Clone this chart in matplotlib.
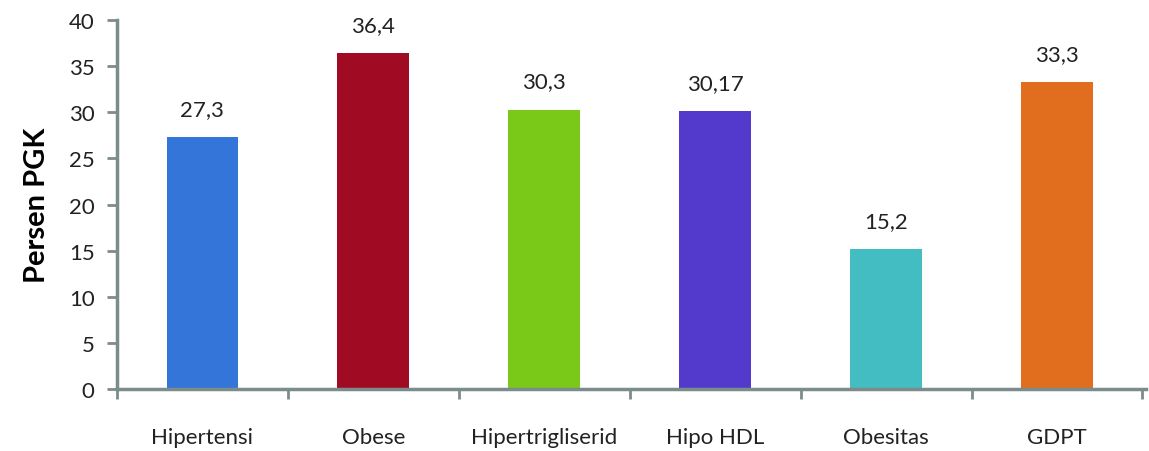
import numpy as np
import matplotlib
matplotlib.use("Agg")
import matplotlib.pyplot as plt

categories = ["Hipertensi", "Obese", "Hipertrigliserid", "Hipo HDL", "Obesitas", "GDPT"]
values = [27.3, 36.4, 30.3, 30.17, 15.2, 33.3]
value_labels = ["27,3", "36,4", "30,3", "30,17", "15,2", "33,3"]
colors = ["#3375D9", "#A00A22", "#7AC818", "#533ACC", "#43BDC1", "#E06E1E"]

plt.rcParams["font.family"] = ["Lato", "DejaVu Sans"]
axis_col = "#7C8C8A"
text_col = "#222222"

fig = plt.figure(figsize=(11.49, 4.52), dpi=100)
ax = fig.add_axes([0.1018, 0.137, 0.8955, 0.8165])

x = np.arange(len(categories))
ax.bar(x, values, width=0.42, color=colors, zorder=2)
for xi, v, lab in zip(x, values, value_labels):
    ax.annotate(lab, (xi, v), xytext=(0, 13), textcoords="offset points",
                ha="center", va="bottom", fontsize=16, color=text_col)

ax.set_xlim(-0.5, len(categories) - 0.48)
ax.set_ylim(0, 40)
ax.set_yticks(np.arange(0, 41, 5))
ax.set_xticks(x)
ax.set_xticklabels(categories)
ax.set_xticks(np.arange(-0.5, len(categories), 1), minor=True)
ax.tick_params(axis="x", which="major", length=0, pad=27, labelsize=16, labelcolor=text_col)
ax.tick_params(axis="x", which="minor", length=7, width=2, color=axis_col, direction="out")
ax.tick_params(axis="y", length=7, width=2, pad=9, color=axis_col, labelsize=16, labelcolor=text_col)

for s in ["top", "right"]:
    ax.spines[s].set_visible(False)
for s in ["left", "bottom"]:
    ax.spines[s].set_color(axis_col)
    ax.spines[s].set_linewidth(2.5)

ax.set_ylabel("Persen PGK", fontsize=21, fontweight="bold", color="black", labelpad=14)

fig.savefig("out.png", dpi=100)
